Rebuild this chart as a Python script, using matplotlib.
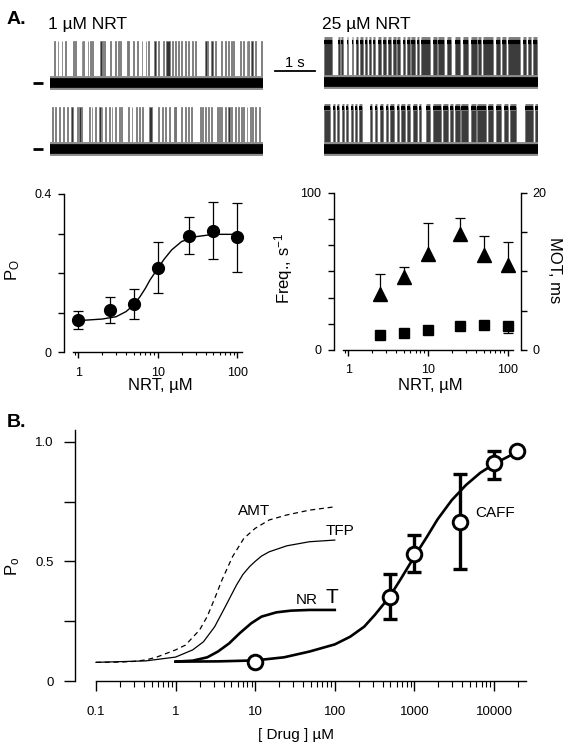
import numpy as np
import matplotlib
matplotlib.use('Agg')
import matplotlib.pyplot as plt
from matplotlib.ticker import FixedLocator, NullFormatter

plt.rcParams['font.family'] = ['Liberation Sans', 'DejaVu Sans']
plt.rcParams['mathtext.default'] = 'regular'

# ---- single channel traces: opening times (s) and durations (ms) ----
t_1um_a = [0.11, 0.19, 0.29, 0.375, 0.57, 0.625, 0.79, 0.83, 0.94, 1.0,
           1.06, 1.25, 1.31, 1.36, 1.5, 1.63, 1.71, 1.75, 1.92, 1.96,
           2.08, 2.17, 2.29, 2.39, 2.46, 2.61, 2.71, 2.83, 2.90, 3.06,
           3.13, 3.21, 3.29, 3.38, 3.46, 3.56, 3.63, 3.88, 3.94, 4.04,
           4.13, 4.28, 4.38, 4.46, 4.53, 4.58, 4.75, 4.83, 4.92, 4.96,
           5.04, 5.13, 5.28]
d_1um_a = [20, 20, 20, 20, 40, 20, 20, 20, 20, 20,
           20, 40, 20, 20, 20, 20, 20, 20, 40, 20,
           20, 20, 20, 20, 20, 40, 20, 20, 100, 20,
           20, 20, 20, 20, 20, 20, 20, 40, 20, 40,
           20, 20, 20, 20, 20, 20, 20, 20, 20, 20,
           40, 20, 20]
t_1um_b = [0.06, 0.125, 0.225, 0.33, 0.42, 0.525, 0.67, 0.725, 0.775, 0.975,
           1.04, 1.125, 1.225, 1.29, 1.375, 1.475, 1.54, 1.625, 1.725, 1.775,
           1.96, 2.04, 2.14, 2.225, 2.31, 2.47, 2.71, 2.81, 2.875, 2.975,
           3.11, 3.14, 3.29, 3.375, 3.46, 3.525, 3.75, 3.81, 3.875, 3.96,
           4.04, 4.17, 4.225, 4.29, 4.375, 4.46, 4.525, 4.625, 4.71, 4.79,
           4.83, 4.92, 5.0, 5.06, 5.125, 5.225]
d_1um_b = [20, 20, 20, 20, 20, 40, 20, 40, 20, 20,
           20, 20, 40, 20, 20, 20, 20, 20, 20, 20,
           20, 20, 40, 20, 20, 80, 20, 20, 20, 20,
           40, 20, 20, 20, 20, 20, 20, 20, 20, 20,
           20, 40, 20, 20, 20, 40, 20, 20, 20, 20,
           20, 20, 20, 20, 20, 20]
on_25um_a = [0.00, 0.36, 0.42, 0.57, 0.69, 0.80, 0.90, 1.03, 1.13, 1.23,
             1.36, 1.48, 1.61, 1.73, 1.83, 1.97, 2.08, 2.19, 2.33, 2.44,
             2.72, 2.86, 3.07, 3.28, 3.47, 3.69, 3.86, 3.98, 4.30, 4.47,
             4.61, 4.98, 5.11, 5.23]
off_25um_a = [0.19, 0.40, 0.48, 0.61, 0.73, 0.86, 0.97, 1.07, 1.17, 1.28,
              1.44, 1.55, 1.67, 1.80, 1.90, 2.03, 2.15, 2.28, 2.38, 2.65,
              2.82, 3.00, 3.19, 3.40, 3.61, 3.82, 3.92, 4.23, 4.40, 4.57,
              4.90, 5.07, 5.19, 5.33]
on_25um_b = [0.00, 0.22, 0.32, 0.44, 0.55, 0.67, 0.78, 0.88, 1.15, 1.28,
             1.40, 1.55, 1.65, 1.83, 1.94, 2.08, 2.23, 2.38, 2.55, 2.73,
             2.98, 3.15, 3.28, 3.44, 3.69, 3.83, 4.11, 4.30, 4.50, 4.65,
             5.03, 5.28]
off_25um_b = [0.15, 0.28, 0.38, 0.50, 0.61, 0.73, 0.83, 0.94, 1.19, 1.33,
              1.48, 1.61, 1.75, 1.88, 2.03, 2.15, 2.32, 2.44, 2.65, 2.94,
              3.11, 3.23, 3.40, 3.61, 3.80, 4.07, 4.23, 4.44, 4.61, 4.82,
              5.23, 5.36]

# ---- Po vs NRT ----
nrt_conc = [1, 2.5, 5, 10, 25, 50, 100]
nrt_po = [0.082, 0.107, 0.122, 0.214, 0.295, 0.307, 0.291]
nrt_po_lo = [0.058, 0.073, 0.084, 0.149, 0.248, 0.235, 0.202]
nrt_po_hi = [0.105, 0.139, 0.159, 0.279, 0.341, 0.379, 0.376]
nrt_fit_x = [1, 2, 3, 4, 5, 6, 7, 8, 10, 12, 15, 20, 30, 50, 100]
nrt_fit_y = [0.080, 0.084, 0.090, 0.103, 0.120, 0.141, 0.162, 0.183, 0.212,
             0.235, 0.259, 0.280, 0.292, 0.298, 0.298]

# ---- Freq / MOT vs NRT ----
fm_conc = [2.5, 5, 10, 25, 50, 100]
freq = [35.6, 46.6, 60.8, 73.9, 60.4, 54.0]
freq_hi = [48.1, 52.5, 80.5, 83.7, 72.5, 68.6]
mot = [1.95, 2.12, 2.5, 3.05, 3.18, 3.09]
mot_lo = [1.95, 2.12, 2.5, 3.05, 3.18, 2.1]

# ---- panel B ----
amt_x = [0.1, 0.2, 0.3, 0.42, 0.57, 1, 1.33, 2, 2.5, 3.1, 3.8, 5.2, 7.2, 10, 15, 25, 48, 100]
amt_y = [0.078, 0.079, 0.082, 0.088, 0.099, 0.13, 0.15, 0.213, 0.27, 0.345, 0.42,
         0.52, 0.596, 0.638, 0.673, 0.694, 0.714, 0.728]
tfp_x = [0.1, 0.42, 1, 1.64, 2.24, 3.1, 4.2, 5.8, 7, 8.5, 10, 12, 15, 25, 48, 100]
tfp_y = [0.078, 0.084, 0.10, 0.13, 0.164, 0.227, 0.31, 0.40, 0.445, 0.478, 0.50,
         0.522, 0.54, 0.565, 0.582, 0.589]
nrtb_x = [1, 1.64, 2.5, 3.4, 4.7, 6.4, 8.9, 12, 18.5, 28, 48, 100]
nrtb_y = [0.081, 0.085, 0.099, 0.123, 0.157, 0.20, 0.241, 0.269, 0.287, 0.294, 0.297, 0.297]
caff_x = [1, 3.4, 10, 23, 48, 100, 156, 234, 318, 488, 662, 1000, 1440, 1950,
          2950, 4450, 6720, 10260, 15500, 23300]
caff_y = [0.081, 0.082, 0.086, 0.099, 0.123, 0.153, 0.185, 0.227, 0.276, 0.352,
          0.422, 0.52, 0.603, 0.675, 0.756, 0.819, 0.870, 0.909, 0.94, 0.965]
caff_pt_x = [10, 500, 1000, 3700, 10000, 19500]
caff_pt_y = [0.081, 0.352, 0.531, 0.666, 0.909, 0.962]
caff_pt_lo = [0.081, 0.259, 0.454, 0.47, 0.844, 0.962]
caff_pt_hi = [0.081, 0.447, 0.61, 0.865, 0.962, 0.962]

W, H = 573, 750
fig = plt.figure(figsize=(5.73, 7.5), dpi=100)


def px(x0, y0, x1, y1):
    return [x0 / W, 1 - y1 / H, (x1 - x0) / W, (y1 - y0) / H]


def trace_axes(x0, x1, yb, T):
    amp = 42
    ax = fig.add_axes(px(x0, yb - 1.1 * amp, x1, yb + 0.35 * amp))
    ax.set_xlim(0, T)
    ax.set_ylim(-0.35, 1.1)
    ax.axis('off')
    ax.plot([0, T], [0, 0], color='0.55', lw=10, solid_capstyle='butt')
    ax.plot([0, T], [0, 0], color='black', lw=7, solid_capstyle='butt')
    return ax


# traces, 1 uM
for yb, tt, dd in [(83, t_1um_a, d_1um_a), (149, t_1um_b, d_1um_b)]:
    ax = trace_axes(50, 263, yb, 5.33)
    ax.bar(tt, 1.0, width=np.array(dd) / 1000, align='edge', color='0.2',
           edgecolor='0.5', linewidth=0.6)
    ax.plot([-0.43, -0.18], [0, 0], color='black', lw=2, clip_on=False,
            solid_capstyle='butt')

# traces, 25 uM
trace_r = []
for yb, on, off in [(82.5, on_25um_a, off_25um_a), (149, on_25um_b, off_25um_b)]:
    ax = trace_axes(324, 538, yb, 5.36)
    on = np.array(on)
    off = np.array(off)
    ax.bar(on, 1.0, width=off - on, align='edge', color='0.1', alpha=0.85,
           edgecolor='0.45', linewidth=0.6)
    ax.hlines(np.ones(len(on)), on, off, color='0.5', lw=5)
    ax.hlines(np.ones(len(on)) * 0.97, on, off, color='black', lw=3)
    trace_r.append(ax)

ax = trace_r[0]
ax.plot([-1.225, -0.225], [0.27, 0.27], color='black', lw=1.3, clip_on=False)
ax.text(-0.725, 0.376, '1 s', ha='center', va='baseline', fontsize=10.5)

fig.text(7 / W, 1 - 24 / H, 'A.', fontsize=14, fontweight='bold', va='baseline')
fig.text(48 / W, 1 - 29 / H, '1 µM NRT', fontsize=12.5, va='baseline')
fig.text(322 / W, 1 - 29 / H, '25 µM NRT', fontsize=12.5, va='baseline')
fig.text(7 / W, 1 - 427 / H, 'B.', fontsize=14, fontweight='bold', va='baseline')


def minor_ticks(lo, hi):
    out = []
    for e in range(-2, 6):
        for m in range(2, 10):
            v = m * 10.0 ** e
            if lo <= v <= hi:
                out.append(v)
    return out


def style(ax, major_len, minor_len):
    ax.spines['top'].set_visible(False)
    ax.spines['right'].set_visible(False)
    for s in ax.spines.values():
        s.set_linewidth(1.0)
        s.set_color('black')
    ax.tick_params(which='major', direction='out', length=major_len, width=1.0,
                   labelsize=9, colors='black')
    ax.tick_params(which='minor', direction='out', length=minor_len, width=0.8)


# ---- A, Po ----
ax = fig.add_axes(px(64.3, 190, 242.7, 352.3))
ax.set_xscale('log')
ax.set_xlim(0.667, 117)
ax.set_ylim(0, 0.41)
style(ax, 4.3, 2.4)
ax.spines['left'].set_bounds(0, 0.4)
ax.spines['bottom'].set_bounds(0.85, 115)
ax.xaxis.set_major_locator(FixedLocator([1, 10, 100]))
ax.set_xticklabels(['1', '10', '100'])
ax.xaxis.set_minor_locator(FixedLocator(minor_ticks(0.85, 115)))
ax.xaxis.set_minor_formatter(NullFormatter())
ax.set_yticks([0, 0.1, 0.2, 0.3, 0.4])
ax.set_yticklabels(['0', '', '', '', '0.4'])
ax.tick_params(axis='x', pad=6)
ax.tick_params(axis='y', pad=5)
ax.plot(nrt_fit_x, nrt_fit_y, color='black', lw=1.0)
po = np.array(nrt_po)
ax.errorbar(nrt_conc, po, yerr=[po - np.array(nrt_po_lo), np.array(nrt_po_hi) - po],
            fmt='o', color='black', ms=8.5, elinewidth=0.9, capsize=3.5,
            capthick=0.9, clip_on=False)
fig.text(13 / W, 1 - 270 / H, '$P_O$', rotation=90, fontsize=12,
         ha='center', va='center')
fig.text(160 / W, 1 - 390 / H, 'NRT, µM', fontsize=12, ha='center', va='baseline')

# ---- A, Freq & MOT ----
ax = fig.add_axes(px(334.3, 188, 521, 350))
ax.set_xscale('log')
ax.set_xlim(0.667, 147)
ax.set_ylim(0, 103)
style(ax, 4.3, 2.4)
ax.spines['left'].set_bounds(0, 100)
ax.spines['bottom'].set_bounds(0.865, 115.6)
ax.xaxis.set_major_locator(FixedLocator([1, 10, 100]))
ax.set_xticklabels(['1', '10', '100'])
ax.xaxis.set_minor_locator(FixedLocator(minor_ticks(0.865, 115.6)))
ax.xaxis.set_minor_formatter(NullFormatter())
ax.set_yticks(np.linspace(0, 100, 7))
ax.set_yticklabels(['0', '', '', '', '', '', '100'])
ax.tick_params(axis='x', pad=6)
ax.tick_params(axis='y', pad=5)
fr = np.array(freq)
ax.vlines(fm_conc, fr, freq_hi, color='black', lw=0.9)
ax.plot(fm_conc, freq_hi, linestyle='none', marker='_', ms=7, mew=0.9, color='black')
ax.plot(fm_conc, fr, linestyle='none', marker='^', ms=10, color='black', clip_on=False)

ax2 = ax.twinx()
ax2.set_ylim(0, 20.6)
ax2.spines['top'].set_visible(False)
ax2.spines['left'].set_visible(False)
ax2.spines['bottom'].set_visible(False)
ax2.spines['right'].set_linewidth(1.0)
ax2.spines['right'].set_bounds(0, 20)
ax2.set_yticks([0, 5, 10, 15, 20])
ax2.set_yticklabels(['0', '', '', '', '20'])
ax2.tick_params(direction='out', length=4.3, width=1.0, labelsize=9, pad=4)
ax2.vlines(fm_conc, mot_lo, mot, color='black', lw=0.9)
ax2.plot(fm_conc, mot_lo, linestyle='none', marker='_', ms=7, mew=0.9, color='black')
ax2.plot(fm_conc, mot, linestyle='none', marker='s', ms=7.5, color='black', clip_on=False)
fig.text(284 / W, 1 - 268 / H, 'Freq., $s^{-1}$', rotation=90, fontsize=12,
         ha='center', va='center')
fig.text(554 / W, 1 - 270 / H, 'MOT, ms', rotation=270, fontsize=12,
         ha='center', va='center')
fig.text(430 / W, 1 - 390 / H, 'NRT, µM', fontsize=12, ha='center', va='baseline')

# ---- B ----
ax = fig.add_axes(px(74.5, 430, 526.3, 681))
ax.set_xscale('log')
ax.set_xlim(0.0537, 25470)
ax.set_ylim(0, 1.049)
style(ax, 7, 4.2)
ax.spines['bottom'].set_bounds(0.1, 25470)
ax.xaxis.set_major_locator(FixedLocator([0.1, 1, 10, 100, 1000, 10000]))
ax.set_xticklabels(['0.1', '1', '10', '100', '1000', '10000'])
ax.xaxis.set_minor_locator(FixedLocator(minor_ticks(0.1, 25470)))
ax.xaxis.set_minor_formatter(NullFormatter())
ax.set_yticks([0, 0.25, 0.5, 0.75, 1.0])
ax.set_yticklabels(['0', '', '0.5', '', '1.0'])
ax.tick_params(axis='y', which='major', length=8, pad=7)
ax.tick_params(axis='x', pad=11)
ax.tick_params(labelsize=9.5)

ax.plot(amt_x, amt_y, color='black', lw=0.9, linestyle=(0, (4, 3)))
ax.plot(tfp_x, tfp_y, color='black', lw=0.9)
ax.plot(nrtb_x, nrtb_y, color='black', lw=1.9)
ax.plot(caff_x, caff_y, color='black', lw=1.9)

cx = np.array(caff_pt_x, dtype=float)
cy = np.array(caff_pt_y)
clo = np.array(caff_pt_lo)
chi = np.array(caff_pt_hi)
has_err = chi > clo
ax.errorbar(cx[has_err], cy[has_err], yerr=[cy[has_err] - clo[has_err], chi[has_err] - cy[has_err]],
            fmt='none', ecolor='black', elinewidth=2.4, capsize=5.3, capthick=2.4)
ax.plot(cx, cy, linestyle='none', marker='o', ms=10.5, mfc='white', mec='black',
        mew=2.1, clip_on=False, zorder=5)

ax.text(6.14, 0.694, 'AMT', fontsize=11, va='baseline')
ax.text(75.9, 0.610, 'TFP', fontsize=11, va='baseline')
ax.text(32.6, 0.322, 'NR', fontsize=11, va='baseline')
ax.text(76.7, 0.327, 'T', fontsize=15, va='baseline')
ax.text(5870, 0.687, 'CAFF', fontsize=11, va='baseline')

fig.text(12.5 / W, 1 - 566 / H, '$P_o$', rotation=90, fontsize=12,
         ha='center', va='center')
fig.text(296 / W, 1 - 739 / H, '[ Drug ] µM', fontsize=11, ha='center', va='baseline')

fig.savefig('out.png', dpi=100)
